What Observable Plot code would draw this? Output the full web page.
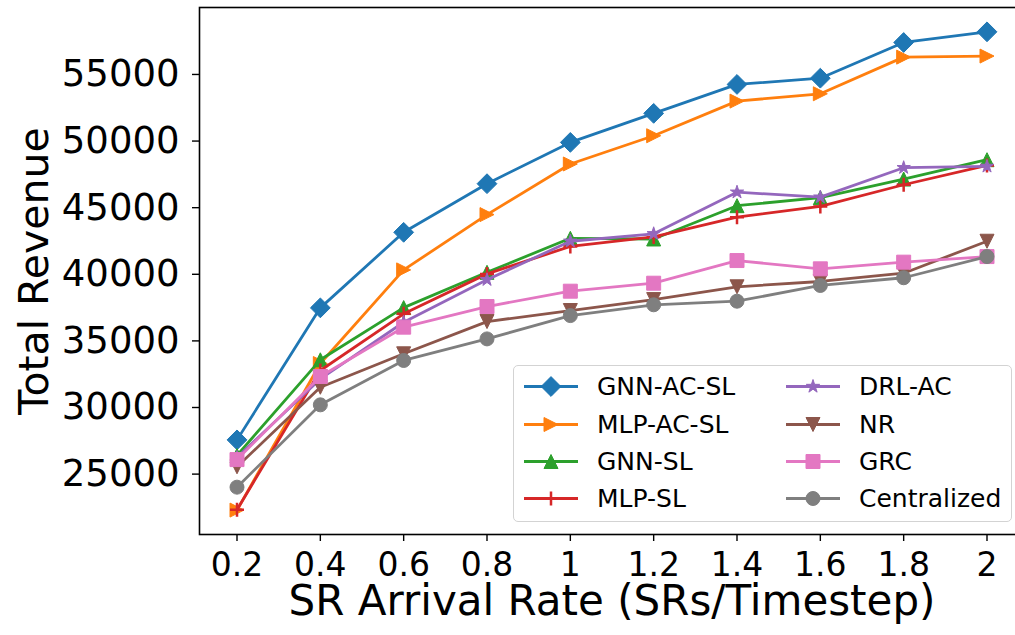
<!DOCTYPE html>
<html><head><meta charset="utf-8">
<script src="https://cdn.jsdelivr.net/npm/d3@7"></script>
<script src="https://cdn.jsdelivr.net/npm/@observablehq/plot@0.6"></script>
<style>
html,body{margin:0;padding:0;background:#fff;overflow:hidden;}
#wrap{position:relative;width:1015px;height:635px;overflow:hidden;font-family:"DejaVu Sans",sans-serif;background:#fff;}
#wrap > svg{max-width:none !important;position:absolute;left:0;top:0;}
#legend{position:absolute;left:513px;top:365px;width:497px;height:155px;border:1.5px solid #d3d3d3;border-radius:5px;background:rgba(255,255,255,0.8);}
.item{position:absolute;height:37px;display:flex;align-items:center;font-size:25px;color:#000;white-space:nowrap;}
.item svg{flex:none;}
</style></head><body><div id="wrap"></div>
<script>
// ---- data ----
const xValues = [0.2, 0.4, 0.6, 0.8, 1.0, 1.2, 1.4, 1.6, 1.8, 2.0];
const xTickLabels = ["0.2", "0.4", "0.6", "0.8", "1", "1.2", "1.4", "1.6", "1.8", "2"];
const yTicks = [25000, 30000, 35000, 40000, 45000, 50000, 55000];
const seriesNames = ["GNN-AC-SL", "MLP-AC-SL", "GNN-SL", "MLP-SL", "DRL-AC", "NR", "GRC", "Centralized"];
const seriesColors = ["#1f77b4", "#ff7f0e", "#2ca02c", "#d62728", "#9467bd", "#8c564b", "#e377c2", "#7f7f7f"];
const gnnAcSl     = [27570, 37480, 43150, 46800, 49900, 52080, 54250, 54720, 57400, 58200];
const mlpAcSl     = [22300, 33300, 40330, 44480, 48280, 50400, 53000, 53550, 56300, 56380];
const gnnSl       = [26400, 33580, 37500, 40150, 42700, 42650, 45150, 45750, 47150, 48600];
const mlpSl       = [22320, 32780, 37030, 40030, 42090, 42800, 44290, 45090, 46720, 48170];
const drlAc       = [26250, 32150, 36400, 39590, 42480, 43040, 46160, 45790, 48000, 48100];
const nr          = [25550, 31520, 34030, 36450, 37280, 38100, 39060, 39460, 40080, 42480];
const grc         = [26090, 32330, 36030, 37580, 38730, 39330, 41030, 40410, 40910, 41330];
const centralized = [24020, 30200, 33530, 35150, 36900, 37710, 37980, 39160, 39740, 41330];
const seriesValues = [gnnAcSl, mlpAcSl, gnnSl, mlpSl, drlAc, nr, grc, centralized];

// ---- matplotlib-like marker symbols ----
const mk = (fn) => ({draw(ctx, size) { const r = Math.sqrt(size / Math.PI); fn(ctx, r); }});
const symDiamond = mk((c, r) => { const h = r * Math.SQRT2; c.moveTo(0, -h); c.lineTo(h, 0); c.lineTo(0, h); c.lineTo(-h, 0); c.closePath(); });
const symTriRight = mk((c, r) => { c.moveTo(r, 0); c.lineTo(-r, r); c.lineTo(-r, -r); c.closePath(); });
const symTriUp = mk((c, r) => { c.moveTo(0, -r); c.lineTo(r, r); c.lineTo(-r, r); c.closePath(); });
const symTriDown = mk((c, r) => { c.moveTo(0, r); c.lineTo(r, -r); c.lineTo(-r, -r); c.closePath(); });
const symPlus = mk((c, r) => { c.moveTo(-r, 0); c.lineTo(r, 0); c.moveTo(0, -r); c.lineTo(0, r); });
const symStar = mk((c, r) => {
  const ri = r * 0.381966;
  for (let i = 0; i < 10; i++) {
    const a = -Math.PI / 2 + i * Math.PI / 5, rr = i % 2 ? ri : r;
    const px = rr * Math.cos(a), py = rr * Math.sin(a);
    if (i) c.lineTo(px, py); else c.moveTo(px, py);
  }
  c.closePath();
});
const symSquare = mk((c, r) => { c.rect(-r, -r, 2 * r, 2 * r); });
const symCircle = mk((c, r) => { c.moveTo(r, 0); c.arc(0, 0, r, 0, 2 * Math.PI); });
const seriesSymbols = [symDiamond, symTriRight, symTriUp, symPlus, symStar, symTriDown, symSquare, symCircle];
const markerR = 7;

// ---- marks ----
const marks = [];
seriesNames.forEach((name, k) => {
  const rows = xValues.map((x, i) => ({x, y: seriesValues[k][i], series: name}));
  const color = seriesColors[k];
  const isPlus = seriesSymbols[k] === symPlus;
  marks.push(Plot.line(rows, {x: "x", y: "y", stroke: color, strokeWidth: 2.8, strokeLinejoin: "round"}));
  marks.push(Plot.dot(rows, {
    x: "x", y: "y", r: markerR, symbol: seriesSymbols[k],
    fill: isPlus ? "none" : color, stroke: color, strokeWidth: isPlus ? 2.5 : 1
  }));
});
marks.push(Plot.axisX({ticks: xValues, tickFormat: d => xTickLabels[xValues.indexOf(d)], tickSize: 7, tickPadding: 11, fontSize: 33, label: null, strokeWidth: 1.4}));
marks.push(Plot.axisY({ticks: yTicks, tickFormat: d => String(d), tickSize: 7, tickPadding: 13, fontSize: 37, label: null, strokeWidth: 1.4}));
marks.push(Plot.text(["SR Arrival Rate (SRs/Timestep)"], {frameAnchor: "bottom", text: d => d, dy: 80, fontSize: 42, lineAnchor: "bottom", fill: "black"}));
marks.push(Plot.text(["Total Revenue"], {frameAnchor: "left", text: d => d, dx: -152, rotate: -90, fontSize: 41, textAnchor: "middle", lineAnchor: "bottom", fill: "black"}));
marks.push(Plot.frame({stroke: "black", strokeWidth: 1.6}));

const chart = Plot.plot({
  width: 1035, height: 635,
  marginLeft: 199, marginRight: 11, marginTop: 7, marginBottom: 101,
  x: {domain: [0.11, 2.09]},
  y: {domain: [20467, 60026]},
  style: {fontFamily: "DejaVu Sans", background: "white", color: "black", maxWidth: "none"},
  marks
});
const wrap = document.getElementById("wrap");
wrap.appendChild(chart);

// ---- legend ----
const legend = document.createElement("div");
legend.id = "legend";
wrap.appendChild(legend);
const rowCenters = [20, 58, 95, 132];
const colLefts = [0, 262];
seriesNames.forEach((name, k) => {
  const col = Math.floor(k / 4), row = k % 4;
  const item = document.createElement("div");
  item.className = "item";
  item.style.left = colLefts[col] + "px";
  item.style.top = (rowCenters[row] - 18.5) + "px";
  const isPlus = seriesSymbols[k] === symPlus;
  const path = d3.symbol(seriesSymbols[k], Math.PI * markerR * markerR)();
  const c = seriesColors[k];
  item.innerHTML = `<svg width="83" height="37" viewBox="0 0 83 37">
    <line x1="10" x2="64" y1="18.5" y2="18.5" stroke="${c}" stroke-width="2.8"/>
    <path transform="translate(37,18.5)" d="${path}" fill="${isPlus ? "none" : c}" stroke="${c}" stroke-width="${isPlus ? 2.5 : 1}"/>
  </svg><span>${name}</span>`;
  legend.appendChild(item);
});
</script>
</body></html>
